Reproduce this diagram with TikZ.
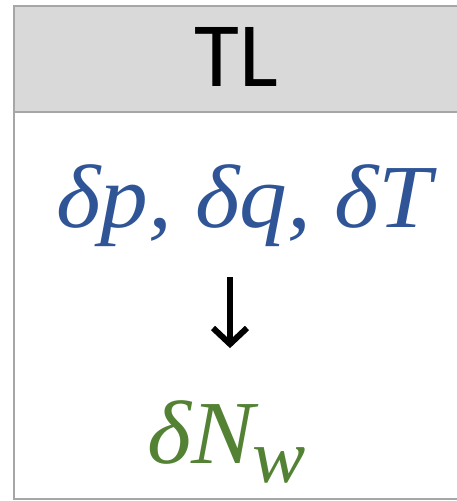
\documentclass[tikz,border=0pt]{standalone}
\usepackage{fontspec}
\setmainfont{Liberation Serif}
\newfontfamily\headfont{Carlito}
\definecolor{frame}{HTML}{A6A6A6}
\definecolor{headfill}{HTML}{D9D9D9}
\definecolor{varblue}{HTML}{2F5597}
\definecolor{vargreen}{HTML}{548235}
\begin{document}
\begin{tikzpicture}[x=1pt,y=-1pt,
  cell/.style={draw=frame,line width=2pt},
  var/.style={inner sep=0pt,anchor=base west,font=\fontsize{90}{100}\selectfont\itshape}]
\clip (0,0) rectangle (457,501);
\useasboundingbox (0,0) rectangle (457,501);
% header and body of the table cell
\fill[headfill] (14,6) rectangle (470,112);
\draw[cell] (470,6) -- (14,6) -- (14,499) -- (470,499);
\draw[cell] (14,112) -- (470,112);
\node[inner sep=0pt,font=\headfont\fontsize{92}{100}\selectfont] (head) at (236,57) {TL};
% perturbed inputs
\node[var,text=varblue] (inputs) at (56,227) {\scalebox{1.06}[1]{δp,\hspace{22pt}δq,\hspace{22pt}δT}};
% arrow from inputs to output
\coordinate (a0) at (230,277);
\coordinate (a1) at (230,344);
\draw[line width=6pt] (a0) -- (a1);
\draw[line width=6pt,line join=miter] (213,328) -- (a1) -- (247,328);
% output
\node[var,text=vargreen] (output) at (147,463) {\scalebox{1.05}[1]{δN\kern-2pt\raisebox{-19pt}{\fontsize{76}{80}\selectfont w}}};
\end{tikzpicture}
\end{document}
